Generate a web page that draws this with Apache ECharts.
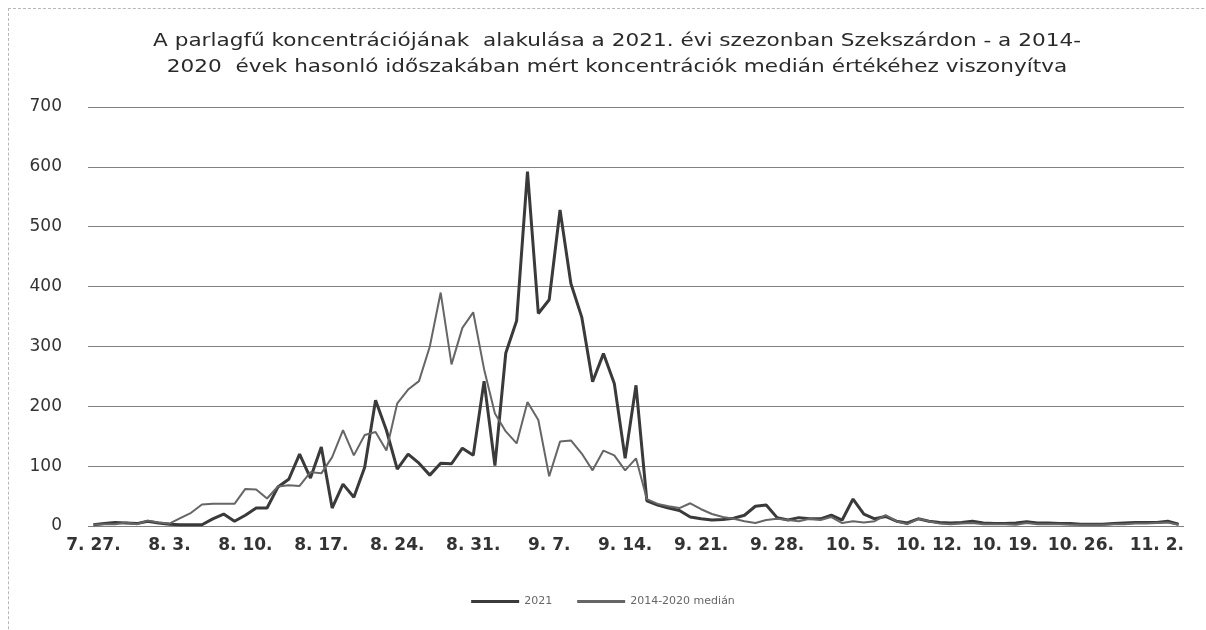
<!DOCTYPE html>
<html>
<head>
<meta charset="utf-8">
<title>Parlagfű koncentráció – Szekszárd 2021</title>
<script src="https://cdn.jsdelivr.net/npm/echarts@6/dist/echarts.min.js"></script>
<style>
  html, body { margin: 0; padding: 0; background: #fff; }
  #frame { position: absolute; left: 8px; top: 8px; width: 1300px; height: 700px;
           border-left: 1px dashed #b8b8b8; border-top: 1px dashed #b8b8b8; }
  #chart { position: absolute; left: 0; top: 0; width: 1206px; height: 630px; }
</style>
</head>
<body>
<div id="frame"></div>
<div id="chart"></div>
<script>
/* daily ragweed pollen counts, 7.27 -> 11.4 (101 days) */
var startDate = [2021, 7, 27];
var dayCount = 101;

var series2021 = [
  2, 4, 6, 5, 4, 8, 5, 3, 2, 2,
  2, 12, 20, 8, 18, 30, 30, 65, 78, 120,
  80, 132, 30, 70, 48, 98, 210, 160, 95, 120,
  105, 85, 105, 104, 130, 118, 242, 101, 289, 343,
  592, 355, 378, 528, 405, 349, 241, 288, 238, 113,
  235, 42, 35, 30, 26, 15, 12, 10, 11, 13,
  18, 33, 35, 14, 10, 14, 12, 12, 18, 10,
  45, 20, 12, 16, 8, 5, 12, 8, 6, 5,
  6, 8, 5, 4, 4, 5, 7, 5, 5, 4,
  4, 3, 3, 3, 4, 5, 6, 6, 6, 8,
  3
];

var seriesMedian = [
  2, 3, 3, 6, 3, 9, 6, 4, 13, 22,
  36, 37, 37, 37, 62, 61, 46, 66, 68, 67,
  90, 88, 115, 160, 118, 152, 157, 126, 205, 228,
  242, 300, 390, 270, 331, 357, 262, 188, 158, 138,
  207, 177, 83, 141, 143, 121, 93, 126, 118, 93,
  113, 45, 37, 33, 30, 38, 28, 20, 15, 12,
  8, 5, 10, 12, 10, 8, 12, 10, 15, 5,
  8, 6, 8, 18, 8, 3, 12, 8, 4, 3,
  4, 5, 3, 3, 3, 2, 5, 3, 3, 3,
  2, 2, 2, 2, 3, 3, 4, 4, 5, 6,
  2
];

var seriesNames = ['2021', '2014-2020 medián'];
var titleText = 'A parlagfű koncentrációjának  alakulása a 2021. évi szezonban Szekszárdon - a 2014-\n' +
                '2020  évek hasonló időszakában mért koncentrációk medián értékéhez viszonyítva';

// category labels "m. d."
var days = [];
(function () {
  var d = new Date(startDate[0], startDate[1] - 1, startDate[2]);
  for (var i = 0; i < dayCount; i++) {
    days.push((d.getMonth() + 1) + '. ' + d.getDate() + '.');
    d.setDate(d.getDate() + 1);
  }
})();

var font = 'DejaVu Sans';
var chart = echarts.init(document.getElementById('chart'), null, { renderer: 'canvas' });
chart.setOption({
  backgroundColor: 'transparent',
  animation: false,
  // the scanned original is stretched sideways, so the title is widened a bit
  graphic: [{
    type: 'text',
    x: 617,
    y: 29,
    scaleX: 1.27,
    style: {
      text: titleText,
      align: 'center',
      verticalAlign: 'top',
      font: '17px "DejaVu Sans"',
      lineHeight: 26,
      fill: '#2a2a2a'
    }
  }],
  legend: {
    data: seriesNames,
    bottom: 18,
    left: 'center',
    icon: 'rect',
    itemWidth: 48,
    itemHeight: 3,
    itemGap: 25,
    textStyle: { fontFamily: font, fontSize: 11, color: '#666' }
  },
  grid: { left: 88, right: 22, top: 107, bottom: 104 },
  xAxis: {
    type: 'category',
    data: days,
    boundaryGap: true,
    axisLine: { show: false },
    axisTick: { show: false },
    axisLabel: { interval: 6, margin: 11, fontFamily: font, fontSize: 17, fontWeight: 'bold', color: '#333' }
  },
  yAxis: {
    type: 'value',
    min: 0,
    max: 700,
    interval: 100,
    axisLine: { show: false },
    axisTick: { show: false },
    axisLabel: { margin: 26, fontFamily: font, fontSize: 17, color: '#333' },
    splitLine: { lineStyle: { color: '#808080', width: 1 } }
  },
  series: [
    {
      name: seriesNames[0], type: 'line', data: series2021,
      symbol: 'none', smooth: false,
      lineStyle: { color: '#3a3a3a', width: 3 },
      itemStyle: { color: '#3a3a3a' },
      z: 2
    },
    {
      name: seriesNames[1], type: 'line', data: seriesMedian,
      symbol: 'none', smooth: false,
      lineStyle: { color: '#666666', width: 2 },
      itemStyle: { color: '#666666' },
      z: 3
    }
  ]
});
</script>
</body>
</html>
